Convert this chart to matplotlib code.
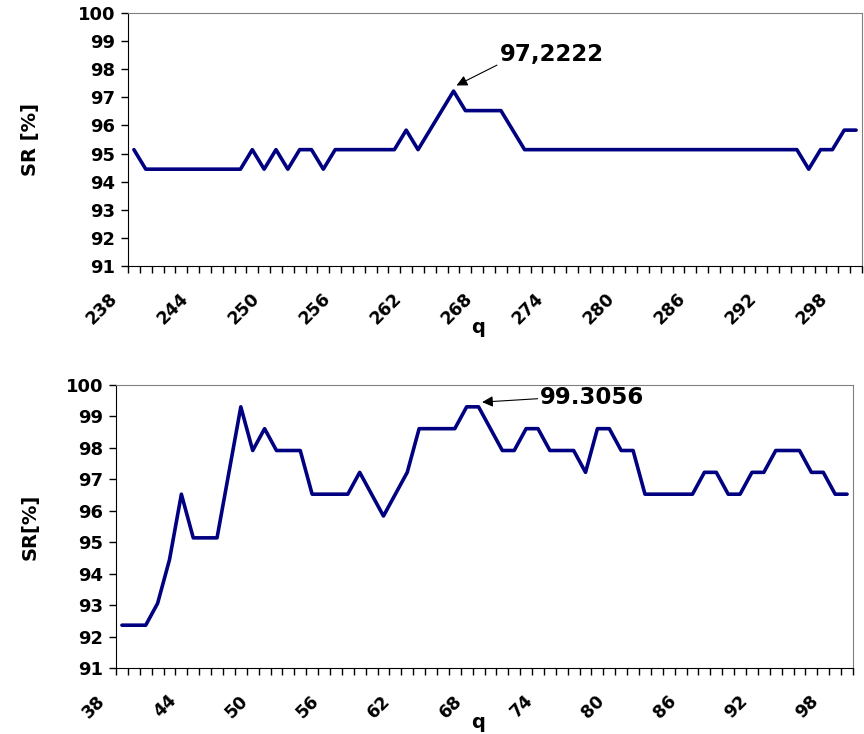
#SR vs q for the two ranges, peaks marked
import numpy as np
import matplotlib
matplotlib.use('Agg')
import matplotlib.pyplot as plt
from matplotlib.transforms import ScaledTranslation

plt.rcParams['font.family'] = 'DejaVu Sans'
plt.rcParams['font.weight'] = 'bold'

# top chart, q = 238..299
q_top = list(range(238, 300))
sr_top = [95.1389, 94.4444, 94.4444, 94.4444, 94.4444, 94.4444, 94.4444, 94.4444,
          94.4444, 94.4444, 95.1389, 94.4444, 95.1389, 94.4444, 95.1389, 95.1389,
          94.4444, 95.1389, 95.1389, 95.1389, 95.1389, 95.1389, 95.1389, 95.8333,
          95.1389, 95.8333, 96.5278, 97.2222, 96.5278, 96.5278, 96.5278, 96.5278,
          95.8333, 95.1389, 95.1389, 95.1389, 95.1389, 95.1389, 95.1389, 95.1389,
          95.1389, 95.1389, 95.1389, 95.1389, 95.1389, 95.1389, 95.1389, 95.1389,
          95.1389, 95.1389, 95.1389, 95.1389, 95.1389, 95.1389, 95.1389, 95.1389,
          95.1389, 94.4444, 95.1389, 95.1389, 95.8333, 95.8333]
peak_top_text = '97,2222'

# bottom chart, q = 38..99
q_bottom = list(range(38, 100))
sr_bottom = [92.3611, 92.3611, 92.3611, 93.0556, 94.4444, 96.5278, 95.1389, 95.1389,
             95.1389, 97.2222, 99.3056, 97.9167, 98.6111, 97.9167, 97.9167, 97.9167,
             96.5278, 96.5278, 96.5278, 96.5278, 97.2222, 96.5278, 95.8333, 96.5278,
             97.2222, 98.6111, 98.6111, 98.6111, 98.6111, 99.3056, 99.3056, 98.6111,
             97.9167, 97.9167, 98.6111, 98.6111, 97.9167, 97.9167, 97.9167, 97.2222,
             98.6111, 98.6111, 97.9167, 97.9167, 96.5278, 96.5278, 96.5278, 96.5278,
             96.5278, 97.2222, 97.2222, 96.5278, 96.5278, 97.2222, 97.2222, 97.9167,
             97.9167, 97.9167, 97.2222, 97.2222, 96.5278, 96.5278]
peak_bottom_text = '99.3056'

fig = plt.figure(figsize=(8.64, 7.34), dpi=100)
ax1 = fig.add_axes([128/864, 1-266/734, 734/864, 253/734])
ax2 = fig.add_axes([116/864, 1-668/734, 737/864, 283/734])


def draw(ax, q, sr, ylabel, ylab_x, qlab_x, qlab_y):
    x = np.arange(len(q))
    ax.plot(x, sr, color='#000080', lw=2.6, solid_joinstyle='round', solid_capstyle='round')
    ax.set_xlim(-0.5, len(q) - 0.5)
    ax.set_ylim(91, 100)
    ax.set_yticks(range(91, 101))
    ax.set_yticklabels([str(v) for v in range(91, 101)], fontsize=13, fontweight='bold')
    ax.tick_params(axis='y', direction='out', length=5, width=1, pad=4)
    ax.set_xticks(x[::6])
    ax.set_xticklabels([str(v) for v in q[::6]], rotation=45, ha='right', va='top',
                       fontsize=12.5, fontweight='bold')
    ax.set_xticks(np.arange(len(q) + 1) - 0.5, minor=True)
    ax.tick_params(axis='x', which='major', length=0, pad=17)
    ax.tick_params(axis='x', which='minor', direction='out', length=5, width=1)
    shift = ScaledTranslation(-0.13, 0, fig.dpi_scale_trans)
    for lab in ax.get_xticklabels():
        lab.set_transform(lab.get_transform() + shift)
    for side in ['top', 'right']:
        ax.spines[side].set_color('#808080')
    for side in ['left', 'bottom']:
        ax.spines[side].set_color('black')
    ax.set_ylabel(ylabel, fontsize=14, fontweight='bold')
    ax.yaxis.set_label_coords(ylab_x, 0.5)
    ax.set_xlabel('q', fontsize=14, fontweight='bold')
    ax.xaxis.set_label_coords(qlab_x, qlab_y)
    return x


x1 = draw(ax1, q_top, sr_top, 'SR [%]', -0.12, 0.477, -0.205)
x2 = draw(ax2, q_bottom, sr_bottom, 'SR[%]', -0.103, 0.491, -0.16)

# peak labels
i1 = int(np.argmax(sr_top))
ax1.annotate(peak_top_text, xy=(i1 + 0.25, sr_top[i1] + 0.2), xytext=(i1 + 3.9, sr_top[i1] + 1.3),
             fontsize=16.5, fontweight='bold', ha='left', va='center',
             arrowprops=dict(arrowstyle='-|>', color='black', lw=0.8, mutation_scale=16,
                             shrinkA=0, shrinkB=0, relpos=(0, 0.1)))
i2 = len(sr_bottom) - 1 - int(np.argmax(sr_bottom[::-1]))
ax2.annotate(peak_bottom_text, xy=(i2 + 0.3, sr_bottom[i2] + 0.15), xytext=(i2 + 5.2, sr_bottom[i2] + 0.3),
             fontsize=16.5, fontweight='bold', ha='left', va='center',
             arrowprops=dict(arrowstyle='-|>', color='black', lw=0.8, mutation_scale=16,
                             shrinkA=0, shrinkB=0, relpos=(0, 0.45)))

plt.savefig('out.png', dpi=100)
